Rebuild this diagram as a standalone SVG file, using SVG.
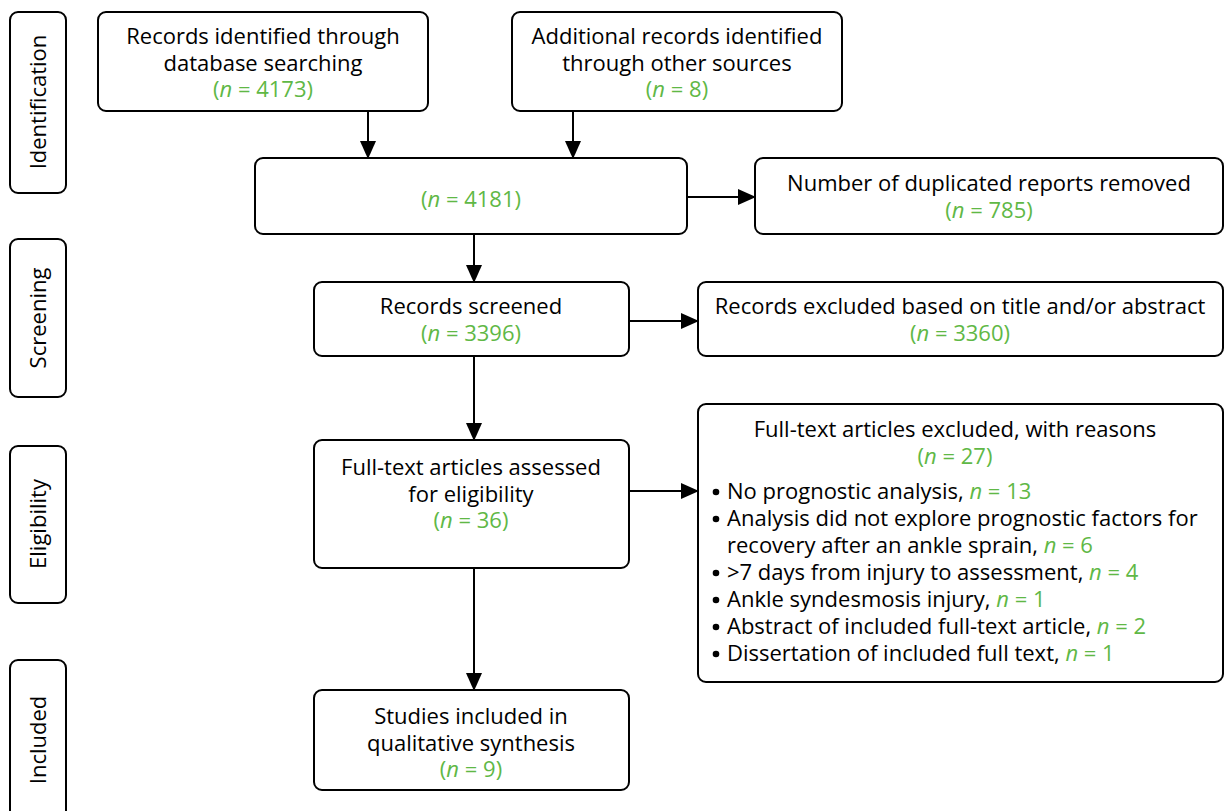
<svg xmlns="http://www.w3.org/2000/svg" width="1225" height="811" viewBox="0 0 1225 811">
<defs>
<style>
.box{fill:#fff;stroke:#000;stroke-width:2}
.t{font-family:"Open Sans","Noto Sans",sans-serif;font-size:22px;fill:#000}
.c{text-anchor:middle}
.g{fill:#5fb846}
.i{font-style:italic}
.ln{stroke:#000;stroke-width:2;fill:none}
.b{fill:#000}
</style>
<marker id="ah" markerWidth="18" markerHeight="16" refX="17" refY="8" orient="auto" markerUnits="userSpaceOnUse">
<path d="M0,0 L18,8 L0,16 Z" fill="#000"/>
</marker>
</defs>
<g id="stage-identification"><rect class="box" x="10" y="12" width="56" height="181" rx="8"/><text class="t c" transform="translate(46,102) rotate(-90)">Identification</text></g>
<g id="stage-screening"><rect class="box" x="10" y="239" width="56" height="158" rx="8"/><text class="t c" transform="translate(46,318) rotate(-90)">Screening</text></g>
<g id="stage-eligibility"><rect class="box" x="10" y="446" width="56" height="157" rx="8"/><text class="t c" transform="translate(46,524) rotate(-90)">Eligibility</text></g>
<g id="stage-included"><rect class="box" x="10" y="660" width="56" height="170" rx="8"/><text class="t c" transform="translate(46,740) rotate(-90)">Included</text></g>
<g id="connectors">
<line class="ln" x1="368" y1="111" x2="368" y2="158" marker-end="url(#ah)"/>
<line class="ln" x1="573" y1="111" x2="573" y2="158" marker-end="url(#ah)"/>
<line class="ln" x1="687" y1="197" x2="755" y2="197" marker-end="url(#ah)"/>
<line class="ln" x1="474" y1="234" x2="474" y2="282" marker-end="url(#ah)"/>
<line class="ln" x1="629" y1="321" x2="698" y2="321" marker-end="url(#ah)"/>
<line class="ln" x1="474" y1="356" x2="474" y2="440" marker-end="url(#ah)"/>
<line class="ln" x1="629" y1="491" x2="698" y2="491" marker-end="url(#ah)"/>
<line class="ln" x1="474" y1="568" x2="474" y2="690" marker-end="url(#ah)"/>
</g>
<g id="n-database"><rect class="box" x="98" y="12" width="330" height="99" rx="8"/>
<text class="t c" x="263" y="44">Records identified through</text>
<text class="t c" x="263" y="71">database searching</text>
<text class="t c g" x="263" y="97">(<tspan class="i">n</tspan> = 4173)</text></g>
<g id="n-other"><rect class="box" x="512" y="12" width="330" height="99" rx="8"/>
<text class="t c" x="677" y="44">Additional records identified</text>
<text class="t c" x="677" y="71">through other sources</text>
<text class="t c g" x="677" y="97">(<tspan class="i">n</tspan> = 8)</text></g>
<g id="n-combined"><rect class="box" x="255" y="158" width="432" height="76" rx="8"/>
<text class="t c g" x="471" y="207">(<tspan class="i">n</tspan> = 4181)</text></g>
<g id="n-duplicates"><rect class="box" x="755" y="158" width="468" height="76" rx="8"/>
<text class="t c" x="989" y="191">Number of duplicated reports removed</text>
<text class="t c g" x="989" y="218">(<tspan class="i">n</tspan> = 785)</text></g>
<g id="n-screened"><rect class="box" x="314" y="282" width="315" height="74" rx="8"/>
<text class="t c" x="471" y="314">Records screened</text>
<text class="t c g" x="471" y="341">(<tspan class="i">n</tspan> = 3396)</text></g>
<g id="n-excluded-title"><rect class="box" x="698" y="282" width="525" height="74" rx="8"/>
<text class="t c" x="960" y="314">Records excluded based on title and/or abstract</text>
<text class="t c g" x="960" y="341">(<tspan class="i">n</tspan> = 3360)</text></g>
<g id="n-fulltext"><rect class="box" x="314" y="440" width="315" height="128" rx="8"/>
<text class="t c" x="471" y="475">Full-text articles assessed</text>
<text class="t c" x="471" y="502">for eligibility</text>
<text class="t c g" x="471" y="528">(<tspan class="i">n</tspan> = 36)</text></g>
<g id="n-fulltext-excluded"><rect class="box" x="698" y="404" width="525" height="278" rx="8"/>
<text class="t c" x="955" y="437">Full-text articles excluded, with reasons</text>
<text class="t c g" x="955" y="464">(<tspan class="i">n</tspan> = 27)</text>
<circle class="b" cx="716" cy="492" r="3.3"/><text class="t" x="727" y="499">No prognostic analysis, <tspan class="g i">n</tspan><tspan class="g"> = 13</tspan></text>
<circle class="b" cx="716" cy="519" r="3.3"/><text class="t" x="727" y="526">Analysis did not explore prognostic factors for</text>
<text class="t" x="727" y="553">recovery after an ankle sprain, <tspan class="g i">n</tspan><tspan class="g"> = 6</tspan></text>
<circle class="b" cx="716" cy="573" r="3.3"/><text class="t" x="727" y="580">&gt;7 days from injury to assessment, <tspan class="g i">n</tspan><tspan class="g"> = 4</tspan></text>
<circle class="b" cx="716" cy="600" r="3.3"/><text class="t" x="727" y="607">Ankle syndesmosis injury, <tspan class="g i">n</tspan><tspan class="g"> = 1</tspan></text>
<circle class="b" cx="716" cy="627" r="3.3"/><text class="t" x="727" y="634">Abstract of included full-text article, <tspan class="g i">n</tspan><tspan class="g"> = 2</tspan></text>
<circle class="b" cx="716" cy="654" r="3.3"/><text class="t" x="727" y="661">Dissertation of included full text, <tspan class="g i">n</tspan><tspan class="g"> = 1</tspan></text></g>
<g id="n-included"><rect class="box" x="314" y="690" width="315" height="100" rx="8"/>
<text class="t c" x="471" y="724">Studies included in</text>
<text class="t c" x="471" y="751">qualitative synthesis</text>
<text class="t c g" x="471" y="777">(<tspan class="i">n</tspan> = 9)</text></g>
</svg>
